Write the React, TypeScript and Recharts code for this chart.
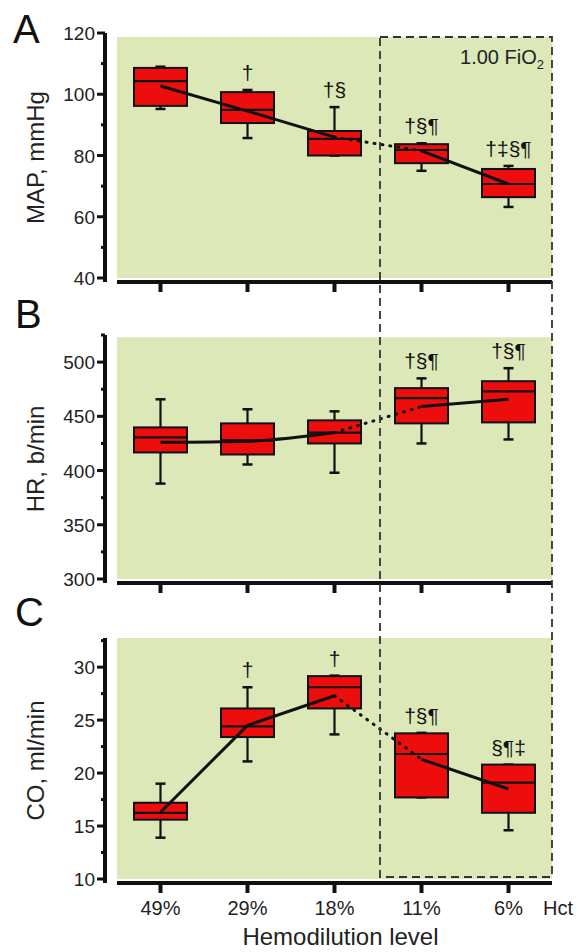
import React from "react";
import {
  ComposedChart,
  Bar,
  Line,
  XAxis,
  YAxis,
  ReferenceArea,
} from "recharts";

const levels = ["49%", "29%", "18%", "11%", "6%"];

// MAP, mmHg
const mapMin = [95.2, 85.7, 80, 75, 63.2];
const mapQ1 = [96.2, 90.6, 80, 77.5, 66.4];
const mapMed = [104.3, 94.9, 85.4, 81.8, 70.7];
const mapQ3 = [108.6, 100.7, 88, 83.7, 75.6];
const mapMax = [109, 101.4, 95.8, 84, 76.6];
const mapMean = [102.7, 94.5, 86, 81.5, 70.7];
const mapNotes = ["", "†", "†§", "†§¶", "†‡§¶"];
const mapTicks = [40, 50, 60, 70, 80, 90, 100, 110, 120];

// HR, b/min
const hrMin = [388, 405.6, 398, 425, 428.7];
const hrQ1 = [416.7, 414.8, 425, 443.5, 444.4];
const hrMed = [430.6, 427.8, 435, 466.7, 473];
const hrQ3 = [439.8, 443.5, 446.3, 476, 482.4];
const hrMax = [465.7, 456.5, 454.6, 485, 494.4];
const hrMean = [426, 427, 435, 459, 465.7];
const hrNotes = ["", "", "", "†§¶", "†§¶"];
const hrTicks = [300, 325, 350, 375, 400, 425, 450, 475, 500, 525];

// CO, ml/min
const coMin = [13.9, 21.1, 23.65, 17.7, 14.6];
const coQ1 = [15.6, 23.4, 26.1, 17.7, 16.25];
const coMed = [16.25, 24.4, 28.1, 21.8, 19.1];
const coQ3 = [17.2, 26.1, 29.15, 23.75, 20.8];
const coMax = [19, 28.1, 29.2, 23.8, 20.8];
const coMean = [16.3, 24.5, 27.3, 21.3, 18.5];
const coNotes = ["", "†", "†", "†§¶", "§¶‡"];
const coTicks = [10, 12.5, 15, 17.5, 20, 22.5, 25, 27.5, 30, 32.5];

const FONT = "'Liberation Sans', Arial, sans-serif";
const BG = "#dce8b7";
const RED = "#ee0d0d";
const INK = "#111";

const PLOT_LEFT = 117;
const PLOT_RIGHT = 552;
const BAND = (PLOT_RIGHT - PLOT_LEFT) / levels.length;

function buildRows(
  min: number[], q1: number[], med: number[], q3: number[], max: number[],
  mean: number[], notes: string[]
) {
  return levels.map((cat, i) => ({
    cat,
    min: min[i],
    q1: q1[i],
    med: med[i],
    q3: q3[i],
    max: max[i],
    note: notes[i],
    meanA: i <= 2 ? mean[i] : null,
    meanDot: i === 2 || i === 3 ? mean[i] : null,
    meanB: i >= 3 ? mean[i] : null,
  }));
}

function BoxShape(props: any) {
  const { x, y, width, height, payload } = props;
  const top = Math.min(y, y + height);
  const h = Math.abs(height);
  const span = payload.max - payload.min || 1;
  const py = (v: number) => top + ((payload.max - v) / span) * h;
  const cx = x + width / 2;
  const cap = 5;
  return (
    <g>
      <line x1={cx} x2={cx} y1={py(payload.max)} y2={py(payload.min)} stroke={INK} strokeWidth={2.2} />
      <line x1={cx - cap} x2={cx + cap} y1={py(payload.max)} y2={py(payload.max)} stroke={INK} strokeWidth={2.5} />
      <line x1={cx - cap} x2={cx + cap} y1={py(payload.min)} y2={py(payload.min)} stroke={INK} strokeWidth={2.5} />
      <rect
        x={x}
        y={py(payload.q3)}
        width={width}
        height={Math.max(1, py(payload.q1) - py(payload.q3))}
        fill={RED}
        stroke={INK}
        strokeWidth={2}
      />
      <line x1={x} x2={x + width} y1={py(payload.med)} y2={py(payload.med)} stroke={INK} strokeWidth={2.2} />
      {payload.note ? (
        <text
          x={cx}
          y={py(payload.max) - 10}
          textAnchor="middle"
          fontFamily={FONT}
          fontSize={21}
          fill={INK}
        >
          {payload.note}
        </text>
      ) : null}
    </g>
  );
}

function YTick(props: any) {
  const { x, y, payload, labels } = props;
  const major = labels.includes(payload.value);
  return (
    <g>
      <line x1={x - (major ? 8 : 4)} x2={x} y1={y} y2={y} stroke={INK} strokeWidth={3} />
      {major ? (
        <text x={x - 10} y={y} dy={7} textAnchor="end" fontFamily={FONT} fontSize={19} fill="#222">
          {payload.value}
        </text>
      ) : null}
    </g>
  );
}

function XTick(props: any) {
  const { x, y, payload, showLabel } = props;
  return (
    <g>
      <line x1={x} x2={x} y1={y} y2={y + 10} stroke={INK} strokeWidth={4} />
      {showLabel ? (
        <text x={x} y={y + 32} textAnchor="middle" fontFamily={FONT} fontSize={20} fill="#222">
          {payload.value}
        </text>
      ) : null}
    </g>
  );
}

function AxisTitle(props: any) {
  const { viewBox, text } = props;
  const cx = 35;
  const cy = viewBox.y + viewBox.height / 2;
  return (
    <text
      x={cx}
      y={cy}
      transform={`rotate(-90, ${cx}, ${cy})`}
      textAnchor="middle"
      dominantBaseline="central"
      fontFamily={FONT}
      fontSize={24}
      fill="#222"
    >
      {text}
    </text>
  );
}

function XTitle(props: any) {
  const { viewBox, text } = props;
  return (
    <text
      x={viewBox.x + viewBox.width / 2 + 6}
      y={viewBox.y + 62}
      textAnchor="middle"
      fontFamily={FONT}
      fontSize={24}
      fill="#222"
    >
      {text}
    </text>
  );
}

type PanelProps = {
  rows: any[];
  height: number;
  top: number;
  xHeight: number;
  domain: [number, number];
  bgTop: number;
  ticks: number[];
  labels: number[];
  title: string;
  curve: "linear" | "monotone";
  showXLabels?: boolean;
};

function Panel({ rows, height, top, xHeight, domain, bgTop, ticks, labels, title, curve, showXLabels }: PanelProps) {
  return (
    <ComposedChart
      width={579}
      height={height}
      data={rows}
      margin={{ top, right: 579 - PLOT_RIGHT, bottom: 0, left: 0 }}
    >
      <XAxis
        dataKey="cat"
        height={xHeight}
        stroke={INK}
        axisLine={{ stroke: INK, strokeWidth: 4 }}
        tickLine={false}
        tickSize={0}
        tickMargin={0}
        interval={0}
        tick={<XTick showLabel={showXLabels} />}
        label={showXLabels ? <XTitle text="Hemodilution level" /> : undefined}
      />
      <YAxis yAxisId="gap" width={12} domain={[0, 1]} axisLine={false} tickLine={false} tick={false} />
      <YAxis
        yAxisId="v"
        width={105}
        type="number"
        domain={domain}
        ticks={ticks}
        interval={0}
        padding={{ top: 0, bottom: 4 }}
        axisLine={{ stroke: INK, strokeWidth: 4 }}
        tickLine={false}
        tickSize={0}
        tickMargin={0}
        tick={<YTick labels={labels} />}
        label={<AxisTitle text={title} />}
      />
      <ReferenceArea
        yAxisId="v"
        x1={levels[0]}
        x2={levels[levels.length - 1]}
        y1={domain[0]}
        y2={bgTop}
        fill={BG}
        fillOpacity={1}
        stroke="none"
      />
      <Bar
        yAxisId="v"
        dataKey={(d: any) => [d.min, d.max]}
        barSize={53}
        shape={<BoxShape />}
        isAnimationActive={false}
      />
      <Line yAxisId="v" dataKey="meanA" type={curve} stroke={INK} strokeWidth={3} dot={false} isAnimationActive={false} />
      <Line yAxisId="v" dataKey="meanB" type="linear" stroke={INK} strokeWidth={3} dot={false} isAnimationActive={false} />
      <Line
        yAxisId="v"
        dataKey="meanDot"
        type="linear"
        stroke={INK}
        strokeWidth={3}
        strokeDasharray="1 7"
        strokeLinecap="round"
        dot={false}
        isAnimationActive={false}
      />
    </ComposedChart>
  );
}

export default function App() {
  const mapRows = buildRows(mapMin, mapQ1, mapMed, mapQ3, mapMax, mapMean, mapNotes);
  const hrRows = buildRows(hrMin, hrQ1, hrMed, hrQ3, hrMax, hrMean, hrNotes);
  const coRows = buildRows(coMin, coQ1, coMed, coQ3, coMax, coMean, coNotes);
  const boxLeft = PLOT_LEFT + 3 * BAND + 2;

  return (
    <div style={{ position: "absolute", left: 0, top: 0, width: 579, height: 952, background: "#fff", fontFamily: FONT }}>
      <div style={{ position: "absolute", left: 0, top: 0 }}>
        <Panel
          rows={mapRows}
          height={300}
          top={33}
          xHeight={18}
          domain={[40, 120]}
          bgTop={118.7}
          ticks={mapTicks}
          labels={[40, 60, 80, 100, 120]}
          title="MAP, mmHg"
          curve="linear"
        />
      </div>
      <div style={{ position: "absolute", left: 0, top: 300 }}>
        <Panel
          rows={hrRows}
          height={300}
          top={35}
          xHeight={17}
          domain={[300, 525]}
          bgTop={523}
          ticks={hrTicks}
          labels={[300, 350, 400, 450, 500]}
          title="HR, b/min"
          curve="monotone"
        />
      </div>
      <div style={{ position: "absolute", left: 0, top: 600 }}>
        <Panel
          rows={coRows}
          height={352}
          top={38}
          xHeight={69}
          domain={[10, 32.75]}
          bgTop={32.75}
          ticks={coTicks}
          labels={[10, 15, 20, 25, 30]}
          title="CO, ml/min"
          curve="linear"
          showXLabels
        />
      </div>
      <svg width={579} height={952} style={{ position: "absolute", left: 0, top: 0, pointerEvents: "none" }}>
        <rect
          x={boxLeft}
          y={37}
          width={PLOT_RIGHT - boxLeft}
          height={877 - 37}
          fill="none"
          stroke="#333"
          strokeWidth={1.8}
          strokeDasharray="8 5"
        />
        <text x={544} y={64} textAnchor="end" fontFamily={FONT} fontSize={20} fill="#222">
          1.00 FiO<tspan fontSize={13} dy={5}>2</tspan>
        </text>
        <text x={13} y={43} fontFamily={FONT} fontSize={40} fill={INK}>A</text>
        <text x={15} y={328} fontFamily={FONT} fontSize={40} fill={INK}>B</text>
        <text x={15} y={626} fontFamily={FONT} fontSize={40} fill={INK}>C</text>
        <text x={543} y={915} fontFamily={FONT} fontSize={20} fill="#222">Hct</text>
      </svg>
    </div>
  );
}
